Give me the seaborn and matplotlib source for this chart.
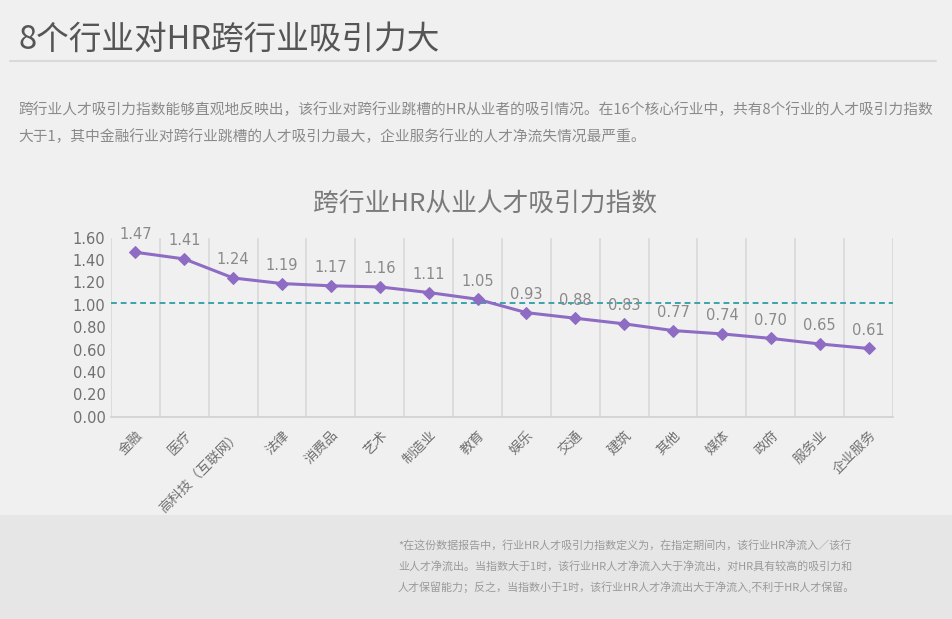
import matplotlib
matplotlib.use("Agg")
import matplotlib.pyplot as plt
import seaborn as sns
import pandas as pd
import numpy as np
from matplotlib.patches import Rectangle
from matplotlib.lines import Line2D

categories = ["金融", "医疗", "高科技（互联网）", "法律", "消费品", "艺术", "制造业", "教育",
              "娱乐", "交通", "建筑", "其他", "媒体", "政府", "服务业", "企业服务"]
values = [1.47, 1.41, 1.24, 1.19, 1.17, 1.16, 1.11, 1.05,
          0.93, 0.88, 0.83, 0.77, 0.74, 0.70, 0.65, 0.61]
reference_level = 1.02
yticks = [0.0, 0.2, 0.4, 0.6, 0.8, 1.0, 1.2, 1.4, 1.6]

sns.set_theme(style="white")
plt.rcParams['font.family'] = ['Noto Sans CJK SC', 'DejaVu Sans']

BG = "#f0f0f0"
fig = plt.figure(figsize=(9.53, 6.19), dpi=100, facecolor=BG)

# footer band
fig.patches.append(Rectangle((0, 0), 1, 1 - 515 / 619, transform=fig.transFigure,
                             facecolor="#e6e6e6", edgecolor="none", zorder=0))
# header
fig.text(18 / 953, 1 - 40 / 619, "8个行业对HR跨行业吸引力大", fontsize=23.5, color="#555555",
         ha="left", va="center")
fig.add_artist(Line2D([10 / 953, 936 / 953], [1 - 61 / 619, 1 - 61 / 619],
                      transform=fig.transFigure, color="#d9d9d9", lw=1.5))
fig.text(18 / 953, 1 - 110 / 619,
         "跨行业人才吸引力指数能够直观地反映出，该行业对跨行业跳槽的HR从业者的吸引情况。在16个核心行业中，共有8个行业的人才吸引力指数",
         fontsize=10.6, color="#8a8a8a", ha="left", va="center")
fig.text(18 / 953, 1 - 137 / 619,
         "大于1，其中金融行业对跨行业跳槽的人才吸引力最大，企业服务行业的人才净流失情况最严重。",
         fontsize=10.6, color="#8a8a8a", ha="left", va="center")

footer = ["*在这份数据报告中，行业HR人才吸引力指数定义为，在指定期间内，该行业HR净流入／该行",
          "业人才净流出。当指数大于1时，该行业HR人才净流入大于净流出，对HR具有较高的吸引力和",
          "人才保留能力；反之，当指数小于1时，该行业HR人才净流出大于净流入,不利于HR人才保留。"]
for i, line in enumerate(footer):
    fig.text(398 / 953, 1 - (545 + 21 * i) / 619, line, fontsize=7.95, color="#9a9a9a",
             ha="left", va="center")

# chart title
fig.text(485 / 953, 1 - 205 / 619, "跨行业HR从业人才吸引力指数", fontsize=18.5, color="#7a7a7a",
         ha="center", va="center")

ax = fig.add_axes([111 / 953, 1 - 416.7 / 619, (893 - 111) / 953, (416.7 - 237.7) / 619])
ax.set_facecolor(BG)

df = pd.DataFrame({"idx": np.arange(len(categories)), "value": values, "cat": categories})
sns.lineplot(data=df, x="idx", y="value", ax=ax, color="#8f6cc4", lw=2.2,
             marker="D", markersize=6, markeredgecolor="#8f6cc4", zorder=5)

ax.axhline(reference_level, color="#3aa3ad", lw=1.4, ls=(0, (3, 2)), zorder=4)

for i, v in enumerate(values):
    ax.annotate(f"{v:.2f}", (i, v), xytext=(0, 13), textcoords="offset points",
                ha="center", va="center", fontsize=10.5, color="#8a8a8a",
                family=["DejaVu Sans"], zorder=6)

ax.set_xlim(-0.5, len(categories) - 0.5)
ax.set_ylim(0, 1.6)
for b in np.arange(-0.5, len(categories), 1.0):
    ax.axvline(b, color="#d8d8d8", lw=1.2, zorder=1)

ax.set_yticks(yticks)
ax.set_yticklabels([f"{t:.2f}" for t in yticks], fontsize=10.5, color="#707070",
                   family=["DejaVu Sans"])
ax.set_xticks(np.arange(len(categories)))
ax.set_xticklabels(categories, rotation=45, ha="right", rotation_mode="anchor",
                   fontsize=9.8, color="#707070")
ax.tick_params(axis="x", length=0, pad=8)
ax.tick_params(axis="y", length=0, pad=4)
ax.set_xlabel("")
ax.set_ylabel("")
for s in ["top", "right", "left"]:
    ax.spines[s].set_visible(False)
ax.spines["bottom"].set_color("#d0d0d0")
ax.spines["bottom"].set_linewidth(1.2)

fig.savefig("out.png", dpi=100, facecolor=BG)
